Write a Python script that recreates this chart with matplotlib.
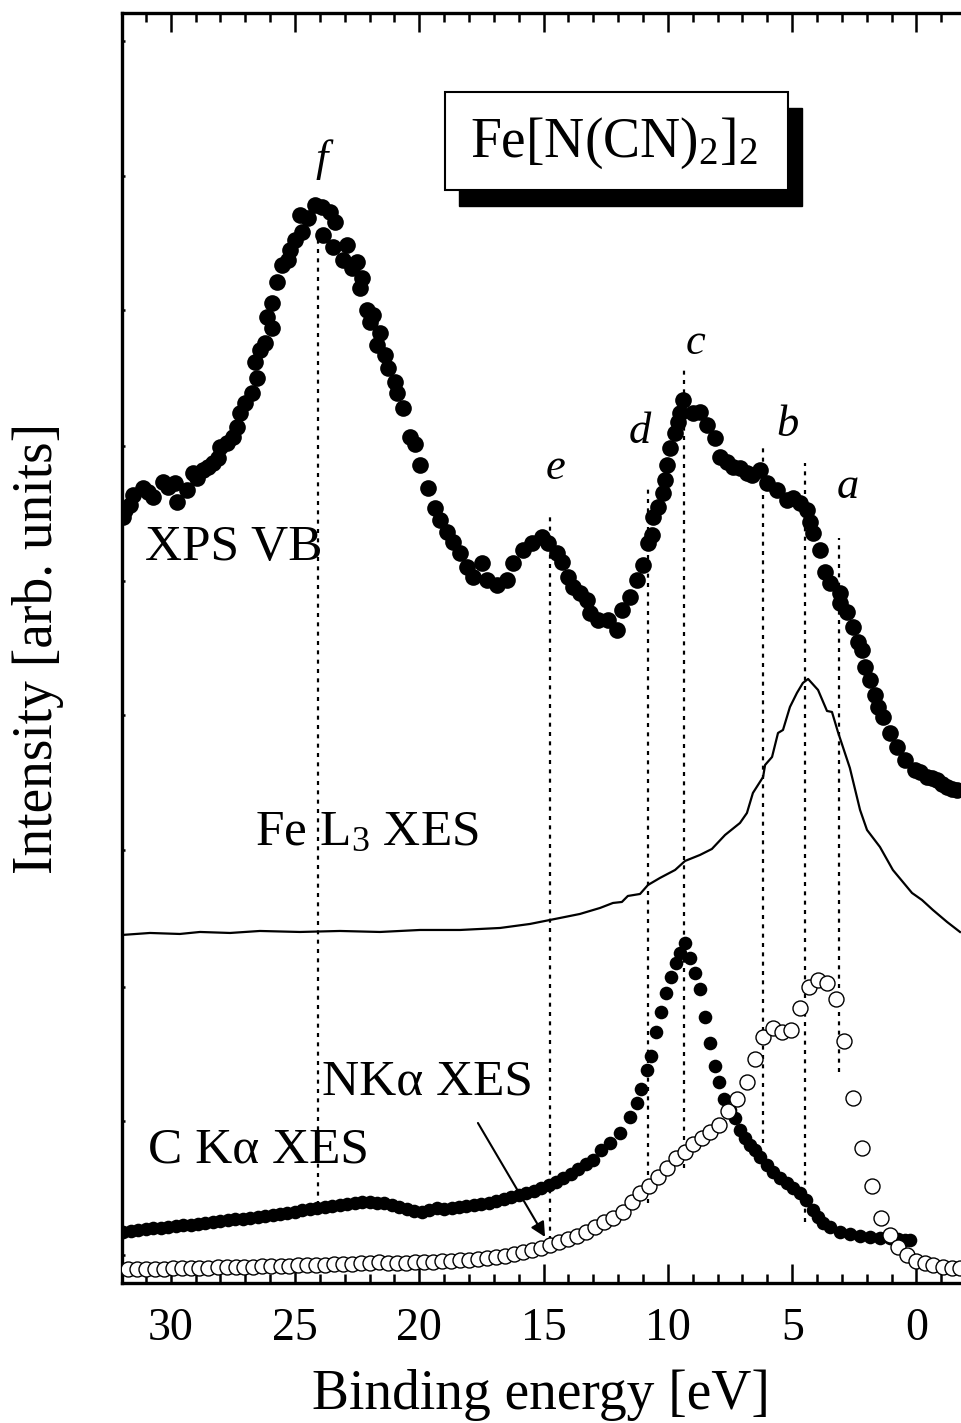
import numpy as np
import matplotlib
matplotlib.use('Agg')
import matplotlib.pyplot as plt
from matplotlib.patches import Rectangle

plt.rcParams['font.family'] = ['Liberation Serif', 'DejaVu Serif']
plt.rcParams['mathtext.fontset'] = 'custom'
plt.rcParams['mathtext.rm'] = 'Liberation Serif'
plt.rcParams['mathtext.it'] = 'Liberation Serif:italic'

# XPS valence band (binding energy in eV, intensity arb. units)
xps_e = [31.92, 31.84, 31.64, 31.52, 31.11, 30.91, 30.71, 30.31, 30.11, 29.83,
         29.75, 29.34, 29.10, 28.94, 28.70, 28.50, 28.30, 28.10, 28.02, 27.74,
         27.49, 27.33, 27.21, 27.01, 26.73, 26.61, 26.53, 26.41, 26.21, 26.13,
         25.93, 25.93, 25.72, 25.52, 25.28, 25.20, 25.00, 24.80, 24.72, 24.48,
         24.20, 23.91, 23.87, 23.59, 23.47, 23.39, 23.07, 22.91, 22.71, 22.51,
         22.39, 22.31, 22.10, 21.98, 21.86, 21.70, 21.58, 21.38, 21.26, 20.98,
         20.90, 20.66, 20.37, 20.17, 19.97, 19.65, 19.37, 19.17, 18.89, 18.64,
         18.36, 18.08, 17.84, 17.48, 17.28, 16.87, 16.47, 16.23, 15.83, 15.47,
         15.06, 14.82, 14.46, 14.26, 14.02, 13.82, 13.54, 13.25, 13.13, 12.81,
         12.41, 12.05, 11.85, 11.52, 11.24, 11.00, 10.80, 10.64, 10.60, 10.40,
         10.20, 10.12, 10.04, 9.92, 9.71, 9.59, 9.51, 9.39, 8.99, 8.71,
         8.43, 8.11, 7.90, 7.62, 7.38, 7.10, 6.82, 6.62, 6.30, 6.01,
         5.61, 5.21, 4.97, 4.69, 4.40, 4.28, 4.16, 3.88, 3.68, 3.48,
         3.08, 3.08, 2.80, 2.55, 2.35, 2.19, 2.07, 1.87, 1.67, 1.55,
         1.35, 1.07, 0.78, 0.46, 0.06, -0.14, -0.42, -0.62, -0.82, -1.03,
         -1.23, -1.43, -1.63]
xps_i = [766, 773, 778, 788, 795, 791, 786, 801, 796, 800,
         781, 793, 810, 805, 813, 816, 820, 825, 836, 840,
         846, 856, 870, 880, 890, 921, 905, 933, 940, 966,
         955, 980, 1001, 1018, 1023, 1033, 1043, 1068, 1051, 1065,
         1078, 1076, 1048, 1071, 1036, 1061, 1023, 1038, 1015, 1021,
         995, 1005, 973, 961, 968, 938, 950, 928, 915, 901,
         890, 875, 846, 839, 818, 795, 775, 763, 751, 741,
         730, 716, 706, 720, 703, 698, 703, 720, 733, 740,
         746, 740, 730, 721, 706, 696, 690, 683, 670, 663,
         663, 653, 673, 686, 703, 718, 740, 748, 766, 776,
         790, 803, 818, 835, 850, 861, 870, 883, 870, 871,
         858, 845, 826, 821, 816, 815, 810, 808, 813, 800,
         793, 783, 785, 780, 773, 761, 750, 733, 711, 700,
         690, 680, 671, 656, 641, 633, 616, 603, 588, 576,
         566, 550, 536, 523, 513, 511, 506, 505, 503, 499,
         496, 494, 493]

# Fe L3 XES
fe_e = [31.96, 30.83, 29.63, 28.82, 27.61, 26.41, 24.80, 23.19, 21.58, 19.97,
        18.36, 16.75, 15.55, 14.34, 13.54, 12.73, 12.21, 11.85, 11.61, 11.12,
        10.80, 10.32, 9.71, 9.31, 8.71, 8.23, 7.70, 7.10, 6.82, 6.58,
        6.17, 6.09, 5.81, 5.57, 5.37, 5.09, 4.81, 4.57, 4.36, 3.96,
        3.60, 3.40, 3.16, 2.68, 2.27, 1.99, 1.47, 0.95, 0.18, -0.22,
        -0.66, -1.23, -1.75]
fe_i = [348, 350, 349, 351, 350, 352, 351, 352, 351, 353,
        353, 355, 359, 365, 369, 375, 380, 381, 387, 389,
        398, 405, 413, 422, 428, 434, 448, 460, 470, 490,
        506, 518, 526, 550, 553, 576, 590, 600, 604, 593,
        572, 571, 551, 515, 473, 453, 436, 413, 390, 383,
        373, 361, 351]

# C K-alpha XES
ck_e = [31.9, 31.6, 31.3, 31.0, 30.7, 30.4, 30.1, 29.8, 29.5, 29.2,
        28.9, 28.6, 28.3, 28.0, 27.7, 27.4, 27.1, 26.8, 26.5, 26.2,
        25.9, 25.6, 25.3, 25.0, 24.7, 24.4, 24.1, 23.8, 23.5, 23.2,
        22.9, 22.6, 22.3, 22.0, 21.7, 21.4, 21.1, 20.8, 20.5, 20.2,
        19.9, 19.6, 19.3, 19.0, 18.7, 18.4, 18.1, 17.8, 17.5, 17.2,
        16.9, 16.6, 16.3, 16.0, 15.7, 15.4, 15.1, 14.8, 14.5, 14.2,
        13.9, 13.6, 13.3, 13.0, 12.7, 12.33, 11.93, 11.52, 11.24, 11.08,
        10.84, 10.68, 10.48, 10.28, 10.08, 9.88, 9.67, 9.51, 9.31, 9.11,
        8.91, 8.71, 8.51, 8.31, 8.11, 7.94, 7.74, 7.50, 7.30, 7.10,
        6.90, 6.70, 6.50, 6.30, 6.01, 5.77, 5.49, 5.21, 4.97, 4.69,
        4.45, 4.16, 3.96, 3.76, 3.48, 3.08, 2.67, 2.27, 1.87, 1.47,
        1.07, 0.74, 0.46, 0.26]
ck_i = [51, 52, 53, 54, 55, 55, 56, 57, 58, 58,
        59, 60, 61, 62, 63, 64, 64, 65, 66, 67,
        68, 69, 70, 71, 73, 74, 75, 76, 77, 78,
        79, 80, 81, 81, 80, 80, 78, 76, 74, 72,
        71, 73, 75, 74, 75, 76, 77, 78, 79, 80,
        82, 84, 86, 88, 90, 92, 95, 98, 101, 105,
        109, 114, 119, 123, 133, 140, 150, 166, 180, 194,
        213, 227, 251, 271, 290, 306, 320, 330, 340, 325,
        310, 294, 266, 240, 217, 201, 184, 173, 165, 153,
        145, 138, 133, 126, 118, 111, 105, 100, 95, 90,
        83, 73, 66, 60, 56, 51, 49, 47, 46, 45,
        45, 44, 43, 43]

# N K-alpha XES
nk_e = [31.73, 31.37, 31.01, 30.64, 30.28, 29.92, 29.56, 29.20, 28.84, 28.48,
        28.11, 27.75, 27.39, 27.03, 26.67, 26.31, 25.95, 25.58, 25.22, 24.86,
        24.50, 24.14, 23.78, 23.42, 23.05, 22.69, 22.33, 21.97, 21.61, 21.25,
        20.89, 20.52, 20.16, 19.80, 19.44, 19.08, 18.72, 18.36, 17.99, 17.63,
        17.27, 16.91, 16.55, 16.19, 15.83, 15.46, 15.10, 14.74, 14.38, 14.02,
        13.66, 13.30, 12.93, 12.57, 12.21, 11.81, 11.45, 11.12, 10.76, 10.40,
        10.04, 9.67, 9.31, 8.99, 8.63, 8.31, 7.94, 7.58, 7.22, 6.82,
        6.50, 6.17, 5.77, 5.41, 5.05, 4.69, 4.32, 3.96, 3.60, 3.24,
        2.92, 2.55, 2.19, 1.79, 1.43, 1.07, 0.74, 0.38, 0.02, -0.34,
        -0.66, -1.07, -1.43, -1.75]
nk_i = [14, 14, 14, 14, 14, 15, 15, 15, 15, 15,
        16, 16, 16, 16, 16, 17, 17, 17, 17, 18,
        18, 18, 18, 19, 19, 19, 20, 20, 21, 20,
        20, 20, 21, 21, 21, 22, 22, 23, 23, 24,
        25, 26, 27, 29, 31, 33, 35, 38, 41, 44,
        47, 51, 56, 61, 65, 71, 81, 90, 97, 106,
        115, 125, 131, 139, 145, 151, 158, 172, 184, 201,
        224, 246, 255, 251, 253, 275, 296, 303, 300, 284,
        242, 185, 135, 97, 65, 48, 36, 28, 22, 20,
        18, 16, 15, 15]

# peak markers: energy, line bottom, line top, label, label position
peak_names = ['f', 'e', 'd', 'c', 'b', 'a']
peak_e = [24.08, 14.74, 10.80, 9.35, 6.17, 3.12]
peak_lo = [78, 43, 80, 115, 140, 211]
peak_hi = [1055, 766, 798, 913, 836, 745]
extra_e, extra_lo, extra_hi = 4.49, 61, 820
label_e = [23.91, 14.50, 11.12, 8.87, 5.17, 2.76]
label_i = [1123, 815, 851, 940, 858, 796]

fig = plt.figure(figsize=(9.61, 14.23), dpi=100)
ax = fig.add_axes([0.1266, 0.0984, 0.8734, 0.8925])

for e, lo, hi in zip(peak_e, peak_lo, peak_hi):
    ax.vlines(e, lo, hi, colors='black', lw=1.6, linestyles=(0, (1.8, 2.4)), zorder=1)
ax.vlines(extra_e, extra_lo, extra_hi, colors='black', lw=1.6, linestyles=(0, (1.8, 2.4)), zorder=1)
for n, e, i in zip(peak_names, label_e, label_i):
    ax.text(e, i, n, fontsize=32, style='italic', ha='center', va='center')

ax.plot(xps_e, xps_i, 'o', color='black', ms=12.0, mew=0, zorder=3)
ax.plot(fe_e, fe_i, '-', color='black', lw=1.6, zorder=2)
ax.plot(ck_e, ck_i, 'o', color='black', ms=9.8, mew=0, zorder=3)
ax.plot(nk_e, nk_i, 'o', mfc='white', mec='black', ms=10.8, mew=1.0, zorder=4)

ax.text(31.03, 735, 'XPS VB', fontsize=37, ha='left', va='center')
ax.text(26.61, 450, r'Fe L$_3$ XES', fontsize=37, ha='left', va='center')
ax.text(30.91, 133, 'C K\u03b1 XES', fontsize=37, ha='left', va='center')
ax.text(23.91, 201, 'NK\u03b1 XES', fontsize=37, ha='left', va='center')
ax.annotate('', xy=(14.94, 46), xytext=(17.64, 160),
            arrowprops=dict(arrowstyle='-|>', lw=1.5, color='black',
                            mutation_scale=22, shrinkA=0, shrinkB=0))

# title box with drop shadow
W, H = 961.0, 1423.0
fig.patches.append(Rectangle((459 / W, 1 - 206 / H), 343 / W, 98 / H,
                             transform=fig.transFigure, facecolor='black',
                             edgecolor='black', zorder=5))
fig.patches.append(Rectangle((445 / W, 1 - 190 / H), 343 / W, 98 / H,
                             transform=fig.transFigure, facecolor='white',
                             edgecolor='black', lw=1.5, zorder=6))
fig.text(614 / W, 1 - 143 / H, r'Fe[N(CN)$_2$]$_2$', fontsize=40,
         ha='center', va='center', zorder=7)

ax.set_xlim(31.97, -1.79)
ax.set_ylim(0, 1270)
ax.set_xticks([30, 25, 20, 15, 10, 5, 0])
ax.set_xticks(np.arange(-1, 32, 1), minor=True)
ax.set_yticks([28, 162, 296, 433, 568, 702, 837, 973, 1107, 1242])
ax.set_yticklabels([])
ax.tick_params(axis='x', which='major', direction='in', top=True, length=13.5,
               width=1.8, labelsize=33, pad=18)
ax.tick_params(axis='x', which='minor', direction='in', top=True, length=6.5, width=1.8)
ax.tick_params(axis='y', which='major', direction='in', length=2.5, width=1.8)
ax.spines['right'].set_visible(False)
for s in ['left', 'top', 'bottom']:
    ax.spines[s].set_linewidth(2.4)

ax.set_xlabel('Binding energy [eV]', fontsize=40, labelpad=13)
ax.set_ylabel('Intensity [arb. units]', fontsize=40, labelpad=38)

fig.savefig('out.png', dpi=100)
